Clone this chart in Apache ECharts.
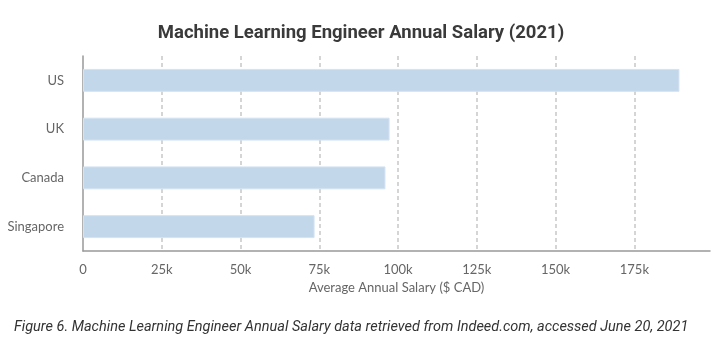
<!DOCTYPE html>
<html>
<head>
<meta charset="utf-8">
<script src="https://cdn.jsdelivr.net/npm/echarts@6/dist/echarts.min.js"></script>
<style>
html,body{margin:0;padding:0;background:#fff;}
#c{width:722px;height:360px;}
</style>
</head>
<body>
<div id="c"></div>
<script>
var titleText = 'Machine Learning Engineer Annual Salary (2021)';
var captionText = 'Figure 6. Machine Learning Engineer Annual Salary data retrieved from Indeed.com, accessed June 20, 2021';
var axisName = 'Average Annual Salary ($ CAD)';
var countries = ['US', 'UK', 'Canada', 'Singapore'];
var salaries = [189300, 97300, 96000, 73500];
var tickStep = 25000;
var axisMax = 199000;

var chart = echarts.init(document.getElementById('c'), null, {renderer: 'canvas'});
var gridColors = ['rgba(0,0,0,0)'];
for (var i = 1; i < 8; i++) gridColors.push('#c8c8c8');
gridColors.push('rgba(0,0,0,0)');

chart.setOption({
  animation: false,
  backgroundColor: '#fff',
  title: [{
    text: titleText,
    left: 'center',
    top: 19,
    textStyle: {fontFamily: 'Roboto', fontWeight: 'bold', fontSize: 18.5, color: '#3a3a3a'}
  }, {
    text: captionText,
    left: 9,
    top: 315,
    textStyle: {fontFamily: 'Roboto', fontStyle: 'italic', fontWeight: 'normal', fontSize: 14.5, color: '#333'}
  }],
  grid: {left: 83, right: 12, top: 56, bottom: 109, containLabel: false},
  xAxis: {
    type: 'value',
    min: 0,
    max: axisMax,
    interval: tickStep,
    name: axisName,
    nameLocation: 'middle',
    nameGap: 24,
    nameTextStyle: {fontFamily: 'Lato', fontSize: 13, color: '#666'},
    axisLine: {show: true, lineStyle: {color: '#999', width: 1.5}},
    axisTick: {show: false},
    axisLabel: {
      fontFamily: 'Lato', fontSize: 13, color: '#666', margin: 12,
      formatter: function (v) {
        if (v % tickStep !== 0) return '';
        return v === 0 ? '0' : (v / 1000) + 'k';
      }
    },
    splitLine: {show: true, lineStyle: {color: gridColors, type: [4, 3], width: 1.5}}
  },
  yAxis: {
    type: 'category',
    data: countries,
    inverse: true,
    axisLine: {show: true, lineStyle: {color: '#999', width: 1.5}},
    axisTick: {show: false},
    axisLabel: {fontFamily: 'Lato', fontSize: 13, color: '#666', margin: 19},
    splitLine: {show: false}
  },
  series: [{
    type: 'bar',
    data: salaries,
    barWidth: '47%',
    itemStyle: {color: '#c3d7eb', borderColor: '#d4e3f1', borderWidth: 1}
  }]
});
</script>
</body>
</html>
